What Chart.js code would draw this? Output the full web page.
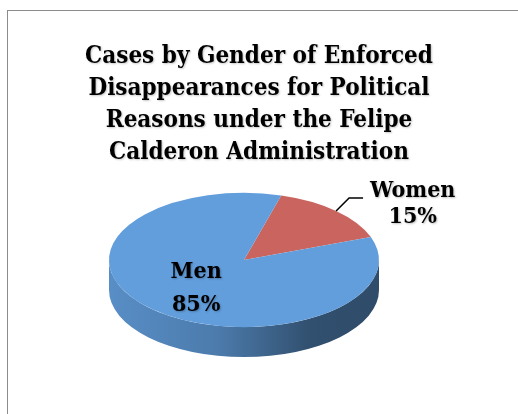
<!DOCTYPE html>
<html>
<head>
<meta charset="utf-8">
<script src="https://cdn.jsdelivr.net/npm/chart.js@4.4.1/dist/chart.umd.min.js"></script>
<style>
    html, body { margin: 0; padding: 0; background: #fff; overflow: hidden; }
    #frame { position: absolute; left: 7px; top: 10px; width: 600px; height: 500px; border: 1px solid #8c8c8c; }
    #title {
        position: absolute; left: 0; top: 39px; width: 518px; text-align: center;
        font: bold 24px/32px 'DejaVu Serif Condensed', 'DejaVu Serif', serif; color: #000;
        text-shadow: 1px 1px 2px rgba(0, 0, 0, 0.22);
    }
    canvas { position: absolute; left: 0; top: 0; }
</style>
</head>
<body>
<div id="frame"></div>
<canvas id="genderPie" width="518" height="414"></canvas>
<div id="title">Cases by Gender of Enforced<br>Disappearances for Political<br>Reasons under the Felipe<br>Calderon Administration</div>
<script>

const categories = ['Women', 'Men'];
const shares = [15, 85];
const sliceColours = ['#c9655e', '#629edc'];

const TILT = 0.497;    // vertical squash of the pie top
const DEPTH = 30;      // thickness of the pie side
const LABEL_FONT = "bold 23px 'DejaVu Serif Condensed', 'DejaVu Serif', serif";


function shade(hex, f) {

    const n = parseInt(hex.slice(1), 16);
    const r = Math.round(((n >> 16) & 255) * f);
    const g = Math.round(((n >> 8) & 255) * f);
    const b = Math.round((n & 255) * f);
    return `rgb(${r}, ${g}, ${b})`;
}


// squash the pie into an ellipse and give it a side
const pie3d = {

    id: 'pie3d',

    beforeDatasetsDraw(chart) {

        const ctx = chart.ctx;
        const arcs = chart.getDatasetMeta(0).data;
        const { x, y, outerRadius } = arcs[0];
        const rx = chart.chartArea.width / 2;
        const ry = rx * TILT;

        arcs.forEach((arc, i) => {

            for (let k = -1; k <= 1; k++) {

                const a = Math.max(arc.startAngle, k * 2 * Math.PI);
                const b = Math.min(arc.endAngle, k * 2 * Math.PI + Math.PI);
                if (b <= a) continue;

                const grad = ctx.createLinearGradient(x - rx, 0, x + rx, 0);
                const c = sliceColours[i];
                grad.addColorStop(0, shade(c, 0.9));
                grad.addColorStop(0.4, shade(c, 0.78));
                grad.addColorStop(0.75, shade(c, 0.5));
                grad.addColorStop(1, shade(c, 0.48));

                ctx.save();
                ctx.beginPath();
                ctx.ellipse(x, y, rx, ry, 0, a, b, false);
                ctx.ellipse(x, y + DEPTH, rx, ry, 0, b, a, true);
                ctx.closePath();
                ctx.fillStyle = grad;
                ctx.fill();
                ctx.restore();
            }
        });

        ctx.save();
        ctx.translate(x, y);
        ctx.scale(rx / outerRadius, ry / outerRadius);
        ctx.translate(-x, -y);
    },

    afterDatasetsDraw(chart) {

        const ctx = chart.ctx;
        ctx.restore();

        const arcs = chart.getDatasetMeta(0).data;
        const { x, y } = arcs[0];
        const rx = chart.chartArea.width / 2;
        const ry = rx * TILT;

        ctx.save();
        ctx.font = LABEL_FONT;
        ctx.fillStyle = '#000';
        ctx.textAlign = 'center';
        ctx.textBaseline = 'alphabetic';

        arcs.forEach((arc, i) => {

            const mid = (arc.startAngle + arc.endAngle) / 2;
            const lines = [categories[i], `${shares[i]}%`];
            const withShadow = () => {
                ctx.shadowColor = 'rgba(0, 0, 0, 0.25)';
                ctx.shadowOffsetX = 1;
                ctx.shadowOffsetY = 1;
                ctx.shadowBlur = 2;
            };

            if (shares[i] > 30) {

                const px = x + rx * 0.52 * Math.cos(mid);
                const py = y + ry * 0.52 * Math.sin(mid);
                withShadow();
                ctx.fillText(lines[0], px, py - 8);
                ctx.fillText(lines[1], px, py + 25);
            }
            else {

                const ax = x + rx * Math.cos(mid);
                const ay = y + ry * Math.sin(mid);
                const ex = ax + 13;
                const ey = ay - 13;

                ctx.beginPath();
                ctx.moveTo(ax, ay);
                ctx.lineTo(ex, ey);
                ctx.lineTo(ex + 14, ey);
                ctx.lineWidth = 1.5;
                ctx.strokeStyle = '#000';
                ctx.stroke();

                const w = Math.max(...lines.map(t => ctx.measureText(t).width));
                const cx = ex + 14 + 7 + w / 2;
                withShadow();
                ctx.fillText(lines[0], cx, ey - 1);
                ctx.fillText(lines[1], cx, ey + 25);
            }
        });
        ctx.restore();
    }
};


function initializeChart() {

    const ctx = document.getElementById('genderPie').getContext('2d');

    new Chart(ctx, {

        type: 'pie',
        data: {

            labels: categories,
            datasets: [{

                data: shares,
                backgroundColor: sliceColours,
                borderWidth: 0,
                clip: false
            }]
        },
        options: {

            responsive: false,
            animation: false,
            rotation: 16,
            layout: { padding: { top: 167, bottom: 61, left: 109, right: 139 } },
            plugins: {

                legend: { display: false },
                tooltip: { enabled: false },
                title: { display: false }
            }
        },
        plugins: [pie3d]
    });
}


window.onload = function () {

    initializeChart();
};
</script>
</body>
</html>
